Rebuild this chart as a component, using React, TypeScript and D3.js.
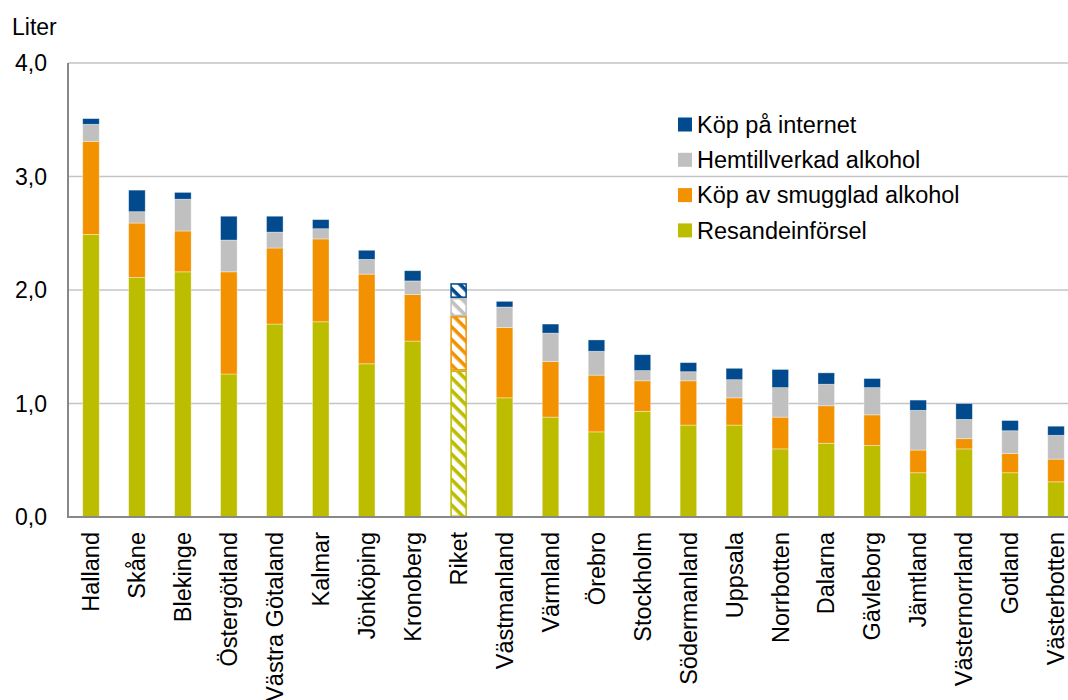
import React from "react";
import * as d3 from "d3";

const categories = ["Halland", "Skåne", "Blekinge", "Östergötland", "Västra Götaland", "Kalmar", "Jönköping", "Kronoberg", "Riket", "Västmanland", "Värmland", "Örebro", "Stockholm", "Södermanland", "Uppsala", "Norrbotten", "Dalarna", "Gävleborg", "Jämtland", "Västernorrland", "Gotland", "Västerbotten"];
const resandeinforsel = [2.49, 2.11, 2.16, 1.26, 1.70, 1.72, 1.35, 1.55, 1.29, 1.05, 0.88, 0.75, 0.93, 0.81, 0.81, 0.60, 0.65, 0.63, 0.39, 0.60, 0.39, 0.31];
const smuggel = [0.82, 0.48, 0.36, 0.90, 0.67, 0.73, 0.79, 0.41, 0.48, 0.62, 0.49, 0.50, 0.27, 0.39, 0.24, 0.28, 0.33, 0.27, 0.20, 0.09, 0.17, 0.20];
const hemtillverkad = [0.15, 0.10, 0.28, 0.28, 0.14, 0.09, 0.13, 0.12, 0.16, 0.18, 0.25, 0.21, 0.09, 0.08, 0.16, 0.26, 0.19, 0.24, 0.35, 0.17, 0.20, 0.21];
const internet = [0.05, 0.19, 0.06, 0.21, 0.14, 0.08, 0.08, 0.09, 0.13, 0.05, 0.08, 0.10, 0.14, 0.08, 0.10, 0.16, 0.10, 0.08, 0.09, 0.14, 0.09, 0.08];
const yTicks = [0, 1, 2, 3, 4];
const highlighted = "Riket";

const seriesKeys = ["resande", "smuggel", "hemtillverkad", "internet"];
const seriesNames = ["Resandeinförsel", "Köp av smugglad alkohol", "Hemtillverkad alkohol", "Köp på internet"];
const seriesColors = ["#BDBD00", "#F39200", "#C0C0C0", "#004A8D"];

const W = 1068, H = 700;
const FONT = "'Liberation Sans', Arial, sans-serif";

export default function App() {
  const rows = categories.map((c, i) => ({
    cat: c,
    resande: resandeinforsel[i],
    smuggel: smuggel[i],
    hemtillverkad: hemtillverkad[i],
    internet: internet[i],
  }));
  const stacked = d3.stack<any>().keys(seriesKeys)(rows);

  const x = d3.scaleBand<string>().domain(categories).range([68, 1079]).paddingInner(0.64).paddingOuter(0.32);
  const y = d3.scaleLinear().domain([0, 4]).range([517, 63]);
  const bw = x.bandwidth();

  const legendOrder = [3, 2, 1, 0];

  return (
    <svg width={W} height={H} style={{ position: "absolute", left: 0, top: 0, display: "block", background: "#fff" }} fontFamily={FONT}>
      <defs>
        {seriesColors.map((c, i) => (
          <pattern key={i} id={`hatch${i}`} patternUnits="userSpaceOnUse" width="9" height="9" patternTransform="rotate(45)">
            <rect width="9" height="9" fill="#fff" />
            <rect x="0" y="0" width="9" height="3.6" fill={c} />
          </pattern>
        ))}
      </defs>
      {/* gridlines */}
      {yTicks.filter(t => t > 0).map(t => (
        <line key={t} x1={68} x2={W} y1={y(t)} y2={y(t)} stroke="#C4C4C4" strokeWidth={1.6} />
      ))}
      {/* bars */}
      {stacked.map((s, si) => (
        <g key={s.key}>
          {s.map((d, i) => {
            const cat = categories[i];
            const isHi = cat === highlighted;
            const y0 = y(d[1]);
            const h = y(d[0]) - y(d[1]);
            return isHi ? (
              <rect key={cat} x={x(cat)! + 0.75} y={y0 + 0.75} width={bw - 1.5} height={Math.max(0, h - 1.5)}
                fill={`url(#hatch${si})`} stroke={seriesColors[si]} strokeWidth={1.5} />
            ) : (
              <rect key={cat} x={x(cat)!} y={y0} width={bw} height={h}
                fill={seriesColors[si]} stroke="#ffffff" strokeOpacity={0.45} strokeWidth={0.8} />
            );
          })}
        </g>
      ))}
      {/* axes */}
      <line x1={68} x2={68} y1={63} y2={517} stroke="#888" strokeWidth={2} />
      <line x1={67} x2={W} y1={517} y2={517} stroke="#888" strokeWidth={2} />
      {yTicks.map(t => (
        <text key={t} x={47} y={y(t)} dy="0.35em" textAnchor="end" fontSize={23} fill="#000">
          {d3.format(".1f")(t).replace(".", ",")}
        </text>
      ))}
      <text x={12} y={35} fontSize={23} fill="#000">Liter</text>
      {categories.map(c => (
        <text key={c} transform={`translate(${x(c)! + bw / 2},532) rotate(-90)`} dy="0.35em" textAnchor="end" fontSize={23.5} fill="#000">
          {c}
        </text>
      ))}
      {/* legend */}
      {legendOrder.map((si, k) => (
        <g key={si} transform={`translate(678,${124.5 + k * 35.3})`}>
          <rect x={0} y={-7} width={14} height={14} fill={seriesColors[si]} />
          <text x={19} y={0} dy="0.35em" fontSize={23.5} fill="#000">{seriesNames[si]}</text>
        </g>
      ))}
    </svg>
  );
}
